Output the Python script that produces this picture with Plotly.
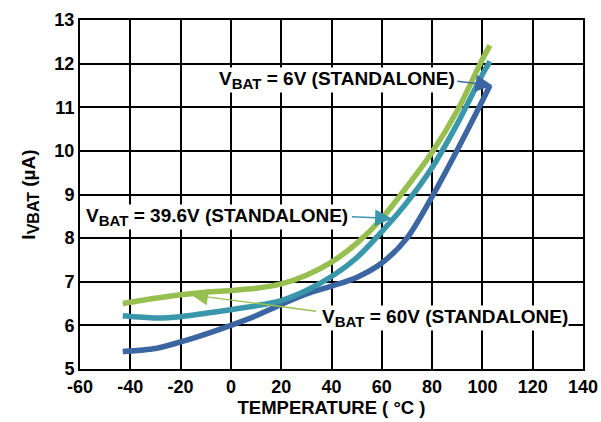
import plotly.graph_objects as go

temps = [-43, -30, -20, -10, 0, 10, 20, 30, 40, 50, 60, 70, 80, 90, 100, 103]
i_6v = [5.40, 5.47, 5.62, 5.80, 6.00, 6.22, 6.48, 6.72, 6.90, 7.10, 7.43, 8.00, 8.95, 10.02, 11.15, 11.50]
i_39v = [6.22, 6.17, 6.20, 6.28, 6.36, 6.45, 6.57, 6.80, 7.12, 7.55, 8.15, 8.82, 9.62, 10.62, 11.75, 12.05]
i_60v = [6.50, 6.62, 6.70, 6.76, 6.80, 6.85, 6.95, 7.15, 7.45, 7.88, 8.45, 9.18, 9.97, 10.92, 12.10, 12.42]

x_ticks = [-60, -40, -20, 0, 20, 40, 60, 80, 100, 120, 140]
x_ticktext = ["-60", "-40", "-20", "0", "20", "40", "60", "80", "100", "120", "140"]
y_ticks = [5, 6, 7, 8, 9, 10, 11, 12, 13]

c_green = "#97bf4f"
c_teal = "#3a97ab"
c_blue = "#3b66a1"

FONT = "Liberation Sans, Arial, sans-serif"
SUB = '<sub><span style="font-size:15px">BAT</span></sub>'

fig = go.Figure()
for ys, col in [(i_6v, c_blue), (i_39v, c_teal), (i_60v, c_green)]:
    fig.add_trace(go.Scatter(x=temps, y=ys, mode="lines",
                             line=dict(color=col, width=5.5, shape="spline", smoothing=0.8),
                             showlegend=False, hoverinfo="skip"))

fig.update_layout(
    width=601, height=422,
    margin=dict(l=80, r=18, t=20, b=53),
    paper_bgcolor="white", plot_bgcolor="white",
    font=dict(family=FONT, size=18, color="black"),
)
fig.update_xaxes(range=[-60, 140], tickvals=x_ticks, ticktext=x_ticktext, ticks="",
                 showgrid=True, automargin=False, ticklabeloverflow="allow",
                 gridcolor="black", gridwidth=2, showline=True, linecolor="black",
                 linewidth=2, mirror=True, zeroline=False,
                 tickfont=dict(family=FONT, size=18, color="black", weight="bold"),
                 title=dict(text="<b>TEMPERATURE ( °C )</b>", standoff=4,
                            font=dict(family=FONT, size=18.5)))
fig.update_yaxes(range=[5, 13], tickvals=y_ticks, ticks="", showgrid=True, automargin=False,
                 gridcolor="black", gridwidth=2, showline=True, linecolor="black",
                 linewidth=2, mirror=True, zeroline=False,
                 tickfont=dict(family=FONT, size=18, color="black", weight="bold"),
                 title=dict(text='<b>I<sub><span style="font-size:16px">VBAT</span></sub> (µA)</b>',
                            standoff=14, font=dict(family=FONT, size=19)))

labels = [
    ("V" + SUB + " = 6V (STANDALONE)", 42, 11.63),
    ("V" + SUB + " = 39.6V (STANDALONE)", -5.5, 8.49),
    ("V" + SUB + " = 60V (STANDALONE)", 85, 6.18),
]
for txt, lx, ly in labels:
    fig.add_annotation(x=lx, y=ly, xref="x", yref="y", text="<b>" + txt + "</b>",
                       showarrow=False, bgcolor="white", borderpad=0,
                       font=dict(family=FONT, size=19, color="black"))

arrows = [
    (89.5, 11.6, 104, 11.5, c_blue),
    (47.5, 8.49, 64, 8.45, c_teal),
    (34.5, 6.32, -15.8, 6.70, c_green),
]
for tx, ty, hx, hy, col in arrows:
    fig.add_annotation(x=hx, y=hy, ax=tx, ay=ty, xref="x", yref="y", axref="x", ayref="y",
                       text="", showarrow=True, arrowhead=2, arrowsize=2.4, arrowwidth=1.4,
                       arrowcolor=col, standoff=0, startstandoff=0)

fig.write_html(
    "out.html",
    config={"displayModeBar": False},
    post_script="document.body.style.margin='0px';"
                "document.documentElement.style.overflow='hidden';",
)
